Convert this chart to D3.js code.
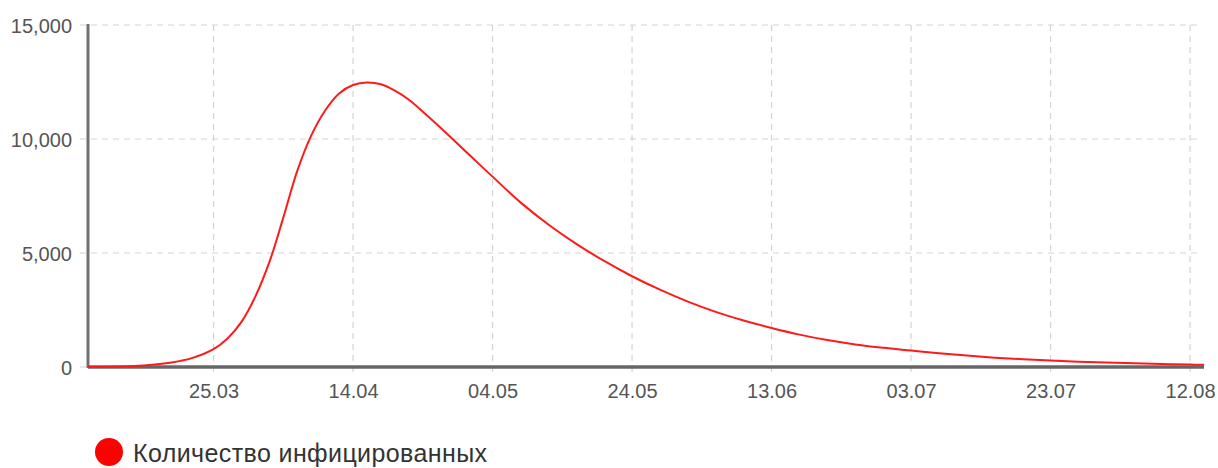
<!DOCTYPE html>
<html><head><meta charset="utf-8">
<script src="https://cdn.jsdelivr.net/npm/d3@7"></script>
<style>
body{margin:0;background:#fff;}
svg{display:block;font-family:"Liberation Sans",Arial,sans-serif;}
</style></head><body>
<svg id="chart" width="1218" height="468"></svg>
<script>
const seriesName = "Количество инфицированных";
const dates = ["07.03","11.03","15.03","19.03","22.03","25.03","27.03","29.03","31.03","02.04","04.04","06.04","08.04","10.04","12.04","14.04","16.04","18.04","20.04","22.04","24.04","26.04","28.04","30.04","02.05","04.05","08.05","12.05","16.05","20.05","24.05","28.05","01.06","05.06","09.06","13.06","17.06","21.06","25.06","29.06","03.07","07.07","11.07","15.07","19.07","23.07","27.07","31.07","04.08","08.08","12.08","14.08"];
const values = [0,15,70,200,400,780,1250,1980,3100,4600,6550,8600,10150,11250,12000,12370,12480,12400,12120,11720,11200,10650,10080,9500,8920,8350,7220,6250,5400,4650,3980,3390,2870,2420,2040,1710,1420,1180,990,840,720,600,500,410,340,280,235,195,160,130,105,95];
const xTickLabels = ["25.03","14.04","04.05","24.05","13.06","03.07","23.07","12.08"];
const yTicks = [0,5000,10000,15000];

const parse = s => { const [d,m] = s.split(".").map(Number); return new Date(2020, m-1, d); };
const data = dates.map((d,i)=>({date:parse(d), v:values[i]}));

const svg = d3.select("#chart");
const mLeft = 88, mRight = 1204, mTop = 25, mBottom = 367;
const x = d3.scaleTime().domain([parse("07.03"), parse("14.08")]).range([mLeft, mRight]);
const y = d3.scaleLinear().domain([0, 15000]).range([mBottom, mTop]);
const FONT = "Liberation Sans, Arial, sans-serif";

// grid
const grid = svg.append("g").attr("stroke","#d3d3d3").attr("stroke-dasharray","6,5").attr("stroke-width",1.2);
yTicks.forEach(t=>{
  grid.append("line").attr("x1",80).attr("x2",1199).attr("y1",y(t)).attr("y2",y(t));
});
xTickLabels.forEach(t=>{
  grid.append("line").attr("x1",x(parse(t))).attr("x2",x(parse(t))).attr("y1",mTop).attr("y2",mBottom+8);
});

// axes
const yAxis = d3.axisLeft(y).tickValues(yTicks).tickFormat(d3.format(",")).tickSize(0).tickPadding(16);
const gy = svg.append("g").attr("transform",`translate(${mLeft},0)`).call(yAxis);
gy.select(".domain").remove();
gy.selectAll("text").attr("font-size",20).attr("fill","#555").attr("font-family",FONT).attr("dy","0.36em");

const xAxis = d3.axisBottom(x).tickValues(xTickLabels.map(parse)).tickFormat(d3.timeFormat("%d.%m")).tickSize(0).tickPadding(17);
const gx = svg.append("g").attr("transform",`translate(0,${mBottom})`).call(xAxis);
gx.select(".domain").remove();
gx.selectAll("text").attr("font-size",20).attr("fill","#555").attr("font-family",FONT);

svg.append("line").attr("x1",mLeft).attr("x2",mLeft).attr("y1",mTop-1).attr("y2",mBottom+1)
  .attr("stroke","#707070").attr("stroke-width",3);
svg.append("line").attr("x1",mLeft).attr("x2",mRight).attr("y1",mBottom).attr("y2",mBottom)
  .attr("stroke","#666").attr("stroke-width",3.5);

// line
const line = d3.line().x(d=>x(d.date)).y(d=>y(d.v)).curve(d3.curveCatmullRom.alpha(0.5));
svg.append("path").datum(data).attr("d",line).attr("fill","none")
  .attr("stroke","#ff1a1a").attr("stroke-width",2);

// legend
svg.append("circle").attr("cx",109).attr("cy",452).attr("r",14).attr("fill","#ff0000");
svg.append("text").attr("x",133).attr("y",462).attr("font-size",25).attr("fill","#333")
  .attr("font-family",FONT).attr("textLength",354).attr("lengthAdjust","spacing").text(seriesName);
</script>
</body></html>
